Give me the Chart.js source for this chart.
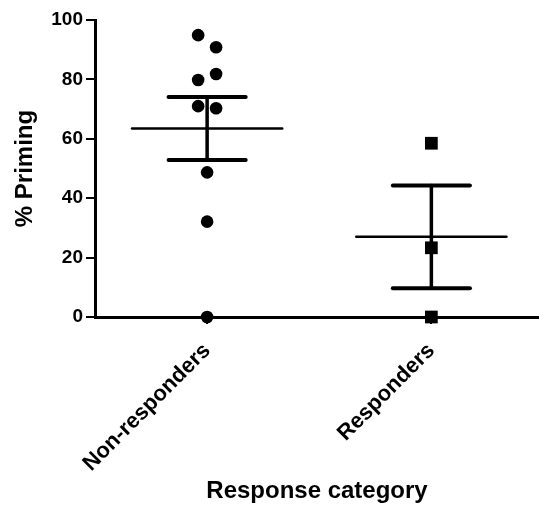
<!DOCTYPE html>
<html>
<head>
<meta charset="utf-8">
<script src="https://cdn.jsdelivr.net/npm/chart.js@4"></script>
<style>
  html, body { margin: 0; padding: 0; background: #fff; }
  #wrap { width: 539px; height: 506px; }
</style>
</head>
<body>
<div id="wrap"><canvas id="primingChart"></canvas></div>
<script>
// categories and values
const categories = ['Non-responders', 'Responders'];
const nonResponders = [94.9, 90.8, 81.8, 79.8, 71.0, 70.3, 48.7, 32.1, 0];
const nonRespJitter = [-0.04, 0.04, 0.04, -0.04, -0.04, 0.04, 0, 0, 0];
const responders = [58.5, 23.3, 0];
const respJitter = [0, 0, 0];
const groupMeans = [63.5, 27.0];
const groupSem = [10.6, 17.3];
const yTicks = [0, 20, 40, 60, 80, 100];

const toPoints = (vals, jit, g) => vals.map((v, i) => ({ x: g + jit[i], y: v }));

// mean line + SEM bars, drawn through the chart scales
const meanSemPlugin = {
    id: 'meanSem',
    afterDatasetsDraw(chart) {
        const ctx = chart.ctx;
        const xs = chart.scales.x;
        const ys = chart.scales.y;
        ctx.save();
        ctx.strokeStyle = '#000';
        ctx.lineCap = 'round';
        groupMeans.forEach((m, i) => {
            const g = i + 1;
            const yMean = ys.getPixelForValue(m);
            const yHi = ys.getPixelForValue(m + groupSem[i]);
            const yLo = ys.getPixelForValue(m - groupSem[i]);
            ctx.lineWidth = 2.5;
            ctx.beginPath();
            ctx.moveTo(xs.getPixelForValue(g - 0.335), yMean);
            ctx.lineTo(xs.getPixelForValue(g + 0.335), yMean);
            ctx.stroke();
            ctx.lineWidth = 3.5;
            ctx.beginPath();
            ctx.moveTo(xs.getPixelForValue(g), yHi);
            ctx.lineTo(xs.getPixelForValue(g), yLo);
            ctx.stroke();
            ctx.lineWidth = 4;
            [yHi, yLo].forEach(yy => {
                ctx.beginPath();
                ctx.moveTo(xs.getPixelForValue(g - 0.172), yy);
                ctx.lineTo(xs.getPixelForValue(g + 0.172), yy);
                ctx.stroke();
            });
        });
        ctx.restore();
    }
};

const ctx = document.getElementById('primingChart').getContext('2d');
const primingChart = new Chart(ctx, {
    type: 'scatter',
    data: {
        datasets: [{
            label: categories[0],
            data: toPoints(nonResponders, nonRespJitter, 1),
            pointStyle: 'circle',
            pointRadius: 6.3,
            backgroundColor: '#000',
            borderColor: '#000',
            borderWidth: 0
        }, {
            label: categories[1],
            data: toPoints(responders, respJitter, 2),
            pointStyle: 'rect',
            pointRadius: 9,
            backgroundColor: '#000',
            borderColor: '#000',
            borderWidth: 0
        }]
    },
    plugins: [meanSemPlugin],
    options: {
        responsive: true,
        maintainAspectRatio: false,
        animation: false,
        clip: false,
        layout: {
            autoPadding: false,
            padding: { top: 20, right: 0, left: 0, bottom: 0 }
        },
        plugins: {
            legend: { display: false },
            tooltip: { enabled: false }
        },
        scales: {
            x: {
                type: 'linear',
                min: 0.5,
                max: 2.48,
                afterBuildTicks: (scale) => {
                    scale.ticks = categories.map((c, i) => ({ value: i + 1 }));
                },
                afterFit: (scale) => {
                    scale.height = 189;
                    scale.getPadding = () => ({ left: 0, top: 0, right: 0, bottom: 0 });
                },
                border: { color: '#000', width: 3 },
                grid: {
                    drawOnChartArea: false,
                    color: '#000',
                    lineWidth: 2,
                    tickLength: 7
                },
                ticks: {
                    autoSkip: false,
                    minRotation: 45,
                    maxRotation: 45,
                    color: '#000',
                    padding: 14,
                    font: { family: 'Liberation Sans, Arial, sans-serif', size: 22, weight: 'bold' },
                    callback: (v) => categories[v - 1]
                },
                title: {
                    display: true,
                    text: 'Response category',
                    color: '#000',
                    padding: { top: 0, bottom: 0 },
                    font: { family: 'Liberation Sans, Arial, sans-serif', size: 24, weight: 'bold' }
                }
            },
            y: {
                min: 0,
                max: 100,
                afterBuildTicks: (scale) => {
                    scale.ticks = yTicks.map(v => ({ value: v }));
                },
                afterFit: (scale) => { scale.width = 95; },
                border: { color: '#000', width: 3 },
                grid: {
                    drawOnChartArea: false,
                    color: '#000',
                    lineWidth: 2,
                    tickLength: 9
                },
                ticks: {
                    color: '#000',
                    padding: 3,
                    font: { family: 'Liberation Sans, Arial, sans-serif', size: 19, weight: 'bold' }
                },
                title: {
                    display: true,
                    text: '% Priming',
                    color: '#000',
                    padding: { top: 11, bottom: 0 },
                    font: { family: 'Liberation Sans, Arial, sans-serif', size: 24, weight: 'bold' }
                }
            }
        }
    }
});
</script>
</body>
</html>
